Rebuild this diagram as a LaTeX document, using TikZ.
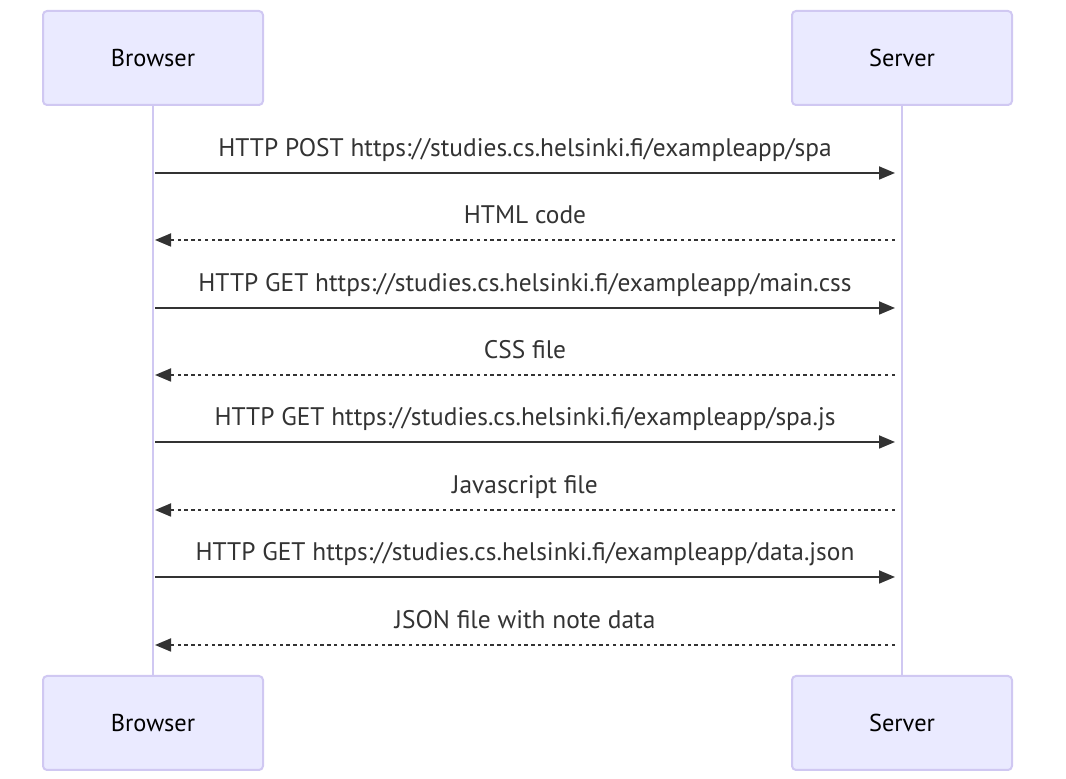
\documentclass[tikz,border=0pt]{standalone}
\usepackage{fontspec}
\setmainfont{PT Sans}
\usepackage{tikz}
\usetikzlibrary{arrows.meta}
\definecolor{actorfill}{RGB}{234,234,255}
\definecolor{actorline}{RGB}{208,200,242}
\definecolor{msgtext}{RGB}{51,51,51}

\begin{document}
\begin{tikzpicture}[x=0.5pt,y=-0.5pt]
  \tikzset{actor/.style={draw=actorline,fill=actorfill,line width=1pt,rounded corners=2pt,
      minimum width=110pt,minimum height=47pt,inner sep=0pt,font=\fontsize{12.2}{14}\selectfont}}
  \tikzset{lifeline/.style={draw=actorline,line width=1.1pt}}
  \tikzset{request/.style={draw=msgtext,line width=0.9pt,-{Triangle[length=8pt,width=6.5pt]}}}
  \tikzset{reply/.style={request,dash pattern=on 1.7pt off 1.7pt}}
  \tikzset{msg/.style={text=msgtext,font=\fontsize{12.7}{15}\selectfont,inner sep=0pt,
      text height=0.72em,text depth=0.22em}}
  \useasboundingbox (0,0) rectangle (1066,779);
  \node[actor] (browserTop) at (153,58) {Browser};
  \node[actor] (serverTop) at (902,58) {Server};
  \node[actor] (browserBottom) at (153,723) {Browser};
  \node[actor] (serverBottom) at (902,723) {Server};
  \draw[lifeline] (browserTop) -- (browserBottom);
  \draw[lifeline] (serverTop) -- (serverBottom);
  % message ends on the lifelines
  \coordinate (b1) at (155,173); \coordinate (s1) at (895,173);
  \coordinate (b2) at (155,240); \coordinate (s2) at (895,240);
  \coordinate (b3) at (155,308); \coordinate (s3) at (895,308);
  \coordinate (b4) at (155,375); \coordinate (s4) at (895,375);
  \coordinate (b5) at (155,442); \coordinate (s5) at (895,442);
  \coordinate (b6) at (155,510); \coordinate (s6) at (895,510);
  \coordinate (b7) at (155,577); \coordinate (s7) at (895,577);
  \coordinate (b8) at (155,645); \coordinate (s8) at (895,645);
  \draw[request] (b1) -- node[msg,above=5.5pt]{HTTP POST https://studies.cs.helsinki.fi/exampleapp/spa} (s1);
  \draw[reply] (s2) -- node[msg,above=5.5pt]{HTML code} (b2);
  \draw[request] (b3) -- node[msg,above=5.5pt]{HTTP GET https://studies.cs.helsinki.fi/exampleapp/main.css} (s3);
  \draw[reply] (s4) -- node[msg,above=5.5pt]{CSS file} (b4);
  \draw[request] (b5) -- node[msg,above=5.5pt]{HTTP GET https://studies.cs.helsinki.fi/exampleapp/spa.js} (s5);
  \draw[reply] (s6) -- node[msg,above=5.5pt]{Javascript file} (b6);
  \draw[request] (b7) -- node[msg,above=5.5pt]{HTTP GET https://studies.cs.helsinki.fi/exampleapp/data.json} (s7);
  \draw[reply] (s8) -- node[msg,above=5.5pt]{JSON file with note data} (b8);
\end{tikzpicture}
\end{document}
